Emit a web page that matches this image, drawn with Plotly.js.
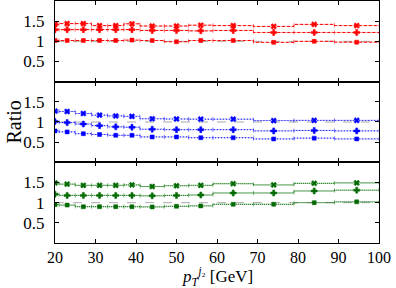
<!DOCTYPE html>
<html>
<head>
<meta charset="utf-8">
<script src="https://cdn.plot.ly/plotly-3.0.1.min.js"></script>
<style>html,body{margin:0;padding:0;background:#fff}#plot{width:396px;height:288px}</style>
</head>
<body>
<div id="plot"></div>
<script>
// bin edges and centres (GeV)
const binEdges = [19, 21, 25, 29, 33, 37, 41, 47, 53, 59, 69, 79, 89, 100];
const binCenters = [20, 23, 27, 31, 35, 39, 44, 50, 56, 64, 74, 84, 94.5];

// top panel (red)
const redTop = [1.42, 1.44, 1.44, 1.39, 1.39, 1.435, 1.38, 1.38, 1.40, 1.39, 1.37, 1.42, 1.39];
const redMid = [1.29, 1.29, 1.29, 1.29, 1.29, 1.29, 1.27, 1.27, 1.26, 1.27, 1.22, 1.22, 1.22];
const redBot = [1.02, 1.02, 1.02, 1.02, 1.02, 1.03, 1.02, 0.99, 1.02, 1.02, 0.975, 1.00, 0.98];

// middle panel (blue)
const blueTop = [1.27, 1.26, 1.21, 1.17, 1.15, 1.14, 1.08, 1.075, 1.07, 1.07, 1.035, 1.04, 1.04];
const blueMid = [1.01, 0.985, 0.95, 0.91, 0.88, 0.87, 0.82, 0.81, 0.81, 0.81, 0.78, 0.79, 0.78];
const blueBot = [0.78, 0.755, 0.71, 0.69, 0.67, 0.67, 0.63, 0.63, 0.61, 0.61, 0.58, 0.60, 0.58];

// bottom panel (green)
const greenTop = [1.49, 1.46, 1.43, 1.43, 1.43, 1.44, 1.40, 1.42, 1.43, 1.47, 1.44, 1.48, 1.49];
const greenMid = [1.21, 1.18, 1.18, 1.18, 1.18, 1.18, 1.17, 1.18, 1.19, 1.24, 1.24, 1.29, 1.31];
const greenBot = [0.95, 0.94, 0.90, 0.90, 0.90, 0.90, 0.895, 0.91, 0.92, 0.96, 0.96, 1.00, 1.02];

// statistical uncertainty (small)
const statErr = [0.025, 0.02, 0.02, 0.02, 0.02, 0.02, 0.02, 0.02, 0.02, 0.02, 0.02, 0.02, 0.02];

const refValue = 1;
const xTicks = [20, 30, 40, 50, 60, 70, 80, 90, 100];
const yTicks = [0.5, 1, 1.5];
const xTitle = '<i>p</i><sub><i>T</i></sub><sup><i>j</i>₂</sup> [GeV]';
const yTitle = 'Ratio';

const lo = binCenters.map((c, i) => c - binEdges[i]);
const hi = binCenters.map((c, i) => binEdges[i + 1] - c);

const traces = [];
function addSeries(vals, color, light, dash, symbol, size, xa, ya) {
  traces.push({
    x: binEdges, y: vals.concat([vals[vals.length - 1]]),
    mode: 'lines', line: {shape: 'hv', color: color, width: 1, dash: dash},
    xaxis: xa, yaxis: ya, hoverinfo: 'skip', showlegend: false
  });
  traces.push({
    x: binCenters, y: vals, mode: 'markers',
    marker: {symbol: symbol, size: size, color: color, line: {color: color, width: 0.5}},
    error_x: {type: 'data', symmetric: false, array: hi, arrayminus: lo, color: light, thickness: 1, width: 2},
    error_y: {type: 'data', array: statErr, color: color, thickness: 1, width: 0},
    xaxis: xa, yaxis: ya, showlegend: false
  });
}
const red = '#ff0000', redL = 'rgba(255,0,0,0.3)';
const blue = '#0000ff', blueL = 'rgba(0,0,255,0.3)';
const green = '#006a00', greenL = 'rgba(0,120,0,0.3)';

addSeries(redTop, red, redL, '3px,2px', 'x', 5, 'x3', 'y3');
addSeries(redMid, red, redL, '3px,2px', 'cross', 5, 'x3', 'y3');
addSeries(redBot, red, redL, '3px,2px', 'square', 4, 'x3', 'y3');
addSeries(blueTop, blue, blueL, '1px,2px', 'x', 5, 'x2', 'y2');
addSeries(blueMid, blue, blueL, '1px,2px', 'cross', 5, 'x2', 'y2');
addSeries(blueBot, blue, blueL, '1px,2px', 'square', 4, 'x2', 'y2');
addSeries(greenTop, green, greenL, '1px,1px', 'x', 5, 'x', 'y');
addSeries(greenMid, green, greenL, '1px,1px', 'cross', 5, 'x', 'y');
addSeries(greenBot, green, greenL, '1px,1px', 'square', 4, 'x', 'y');

const fam = "'Liberation Serif', 'Times New Roman', serif";
const font = {family: fam, size: 17, color: '#000'};
function xAxis(anchor, labels) {
  return {
    anchor: anchor, range: [20, 100], tickvals: xTicks, showticklabels: labels,
    ticks: 'inside', ticklen: 4, tickcolor: '#000', showline: true, linecolor: '#000',
    linewidth: 1, mirror: 'ticks', showgrid: false, zeroline: false,
    tickfont: {family: fam, size: 16, color: '#000'}, ticklabelstandoff: 0
  };
}
function yAxis(domain, anchor) {
  return {
    domain: domain, anchor: anchor, range: [0, 2], tickvals: yTicks,
    ticktext: ['0.5', '1', '1.5'], ticks: 'inside', ticklen: 4, tickcolor: '#000',
    showline: true, linecolor: '#000', linewidth: 1, mirror: 'ticks',
    showgrid: false, zeroline: false, tickfont: font, ticklabelstandoff: 6
  };
}

const shapes = ['y', 'y2', 'y3'].map((ya, i) => ({
  type: 'line', xref: ['x', 'x2', 'x3'][i] + ' domain', yref: ya,
  x0: 0, x1: 1, y0: refValue, y1: refValue,
  line: {color: '#aaaaaa', width: 1, dash: 'dash'}, layer: 'below'
}));

const annotations = [
  {text: xTitle, xref: 'paper', yref: 'paper', x: 0.5, y: -0.138, xanchor: 'center', yanchor: 'middle',
   showarrow: false, font: {family: fam, size: 17, color: '#000'}},
  {text: yTitle, xref: 'paper', yref: 'paper', x: -0.128, y: 0.5, xanchor: 'center', yanchor: 'middle',
   textangle: -90, showarrow: false, font: {family: fam, size: 20, color: '#000'}}
];

const layout = {
  width: 396, height: 288,
  margin: {l: 55, r: 17, t: 1, b: 45},
  paper_bgcolor: '#fff', plot_bgcolor: '#fff',
  font: font,
  xaxis: xAxis('y', true),
  xaxis2: Object.assign(xAxis('y2', false), {matches: 'x'}),
  xaxis3: Object.assign(xAxis('y3', false), {matches: 'x'}),
  yaxis: yAxis([0, 1/3], 'x'),
  yaxis2: yAxis([1/3, 2/3], 'x2'),
  yaxis3: yAxis([2/3, 1], 'x3'),
  shapes: shapes,
  annotations: annotations,
  showlegend: false
};

Plotly.newPlot('plot', traces, layout, {staticPlot: true, displayModeBar: false});
</script>
</body>
</html>
